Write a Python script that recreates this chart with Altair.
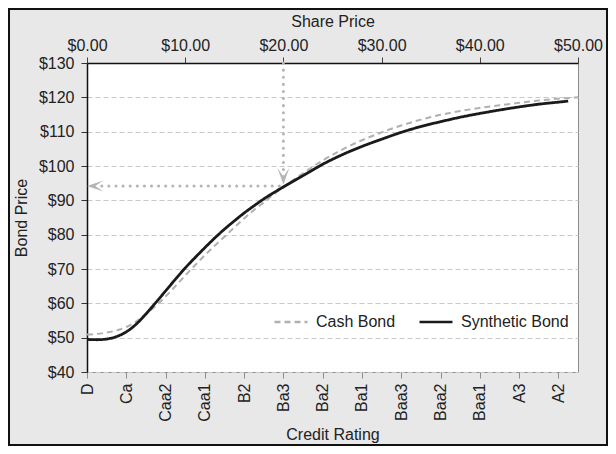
import json
import altair as alt
import pandas as pd

# ---- data ----
ratings = ["D", "Ca", "Caa2", "Caa1", "B2", "Ba3", "Ba2", "Ba1", "Baa3", "Baa2", "Baa1", "A3", "A2"]
rating_share = [0, 4, 8, 12, 16, 20, 24, 28, 32, 36, 40, 44, 48]
share_ticks = [0, 10, 20, 30, 40, 50]
bond_ticks = [40, 50, 60, 70, 80, 90, 100, 110, 120, 130]

cash_x = [0, 1, 2, 3, 4, 5, 6, 7, 8, 9, 10, 11, 12, 13, 14, 15, 16, 17, 18, 19, 20, 21, 22,
          24, 26, 28, 30, 32, 34, 36, 38, 40, 42, 44, 46, 48, 50]
cash_y = [50.9, 51.1, 51.5, 52.1, 53.1, 54.7, 56.8, 59.3, 62.0, 65.0, 68.1, 71.1, 74.0, 76.8,
          79.4, 82.1, 84.7, 87.2, 89.4, 91.7, 93.8, 95.9, 97.9, 101.6, 104.8, 107.5, 109.8,
          111.8, 113.5, 114.9, 116.0, 116.9, 117.7, 118.4, 119.1, 119.6, 120.0]

syn_x = [0, 1, 2, 3, 4, 5, 6, 7, 8, 9, 10, 11, 12, 13, 14, 15, 16, 17, 18, 19, 20, 22,
         24, 26, 28, 30, 32, 34, 36, 38, 40, 42, 44, 46, 48, 49]
syn_y = [49.5, 49.4, 49.6, 50.3, 51.7, 53.9, 56.9, 60.2, 63.6, 67.0, 70.3, 73.3, 76.2, 79.0,
         81.6, 84.0, 86.3, 88.4, 90.4, 92.2, 93.9, 97.2, 100.5, 103.3, 105.7, 107.8, 109.8,
         111.5, 112.9, 114.2, 115.3, 116.3, 117.2, 118.0, 118.6, 118.9]

series_names = ["Cash Bond", "Synthetic Bond"]

# annotation: share price $20 -> bond price ~$94
vert_x = [20, 20]
vert_y = [130, 96]
horiz_x = [1.5, 20]
horiz_y = [94.2, 94.2]
arrow_down = {"s": [20], "v": [94.6]}
arrow_left = {"s": [0], "v": [94.2]}

# ---- frames ----
lines_df = pd.concat([
    pd.DataFrame({"s": cash_x, "v": cash_y, "series": series_names[0]}),
    pd.DataFrame({"s": syn_x, "v": syn_y, "series": series_names[1]}),
])
vert_df = pd.DataFrame({"s": vert_x, "v": vert_y})
horiz_df = pd.DataFrame({"s": horiz_x, "v": horiz_y})
down_df = pd.DataFrame(arrow_down)
left_df = pd.DataFrame(arrow_left)
frame_df = pd.DataFrame({"k": [0]})

FONT = "Liberation Sans"
TXT = "#222222"
GREY_ANN = "#b5b5b5"

xscale = alt.Scale(domain=[0, 50], nice=False, zero=False)
yscale = alt.Scale(domain=[40, 130], nice=False, zero=False)

rating_map = json.dumps({str(k): v for k, v in zip(rating_share, ratings)})

bottom_axis = alt.Axis(
    orient="bottom", values=rating_share, labelExpr=f"{rating_map}[datum.value]",
    labelAngle=-90, title="Credit Rating", grid=False, domain=False,
    tickColor="#8c8c8c", tickSize=6, labelPadding=5, titlePadding=5,
)
top_axis = alt.Axis(
    orient="top", values=share_ticks, labelExpr="'$' + format(datum.value, '.2f')",
    title="Share Price", grid=False, domainColor="#111111", domainWidth=1.5,
    tickColor="#444444", tickSize=6, labelPadding=4, titlePadding=8, labelFlush=False,
)
left_axis = alt.Axis(
    orient="left", values=bond_ticks, labelExpr="'$' + datum.value",
    title="Bond Price", grid=True, gridColor="#c8c8c8", gridDash=[5, 3], gridWidth=1,
    domainColor="#111111", domainWidth=1.5, tickColor="#333333", tickSize=6,
    labelPadding=7, titlePadding=9,
)

legend = alt.Legend(
    orient="none", legendX=186, legendY=241, direction="horizontal", title=None,
    symbolType="stroke", symbolSize=1089, symbolStrokeWidth=2.5,
    labelFontSize=16, labelFont=FONT, labelColor=TXT, columnPadding=18,
    labelOffset=7, padding=0,
)

Y = alt.Y("v:Q", scale=yscale, axis=left_axis)

lines = alt.Chart(lines_df).mark_line(interpolate="monotone").encode(
    x=alt.X("s:Q", scale=xscale, axis=bottom_axis),
    y=Y,
    color=alt.Color("series:N", scale=alt.Scale(domain=series_names, range=["#b0b0b0", "#1a1a1a"]), legend=legend),
    strokeDash=alt.StrokeDash("series:N", scale=alt.Scale(domain=series_names, range=[[6, 4], [1, 0]]), legend=legend),
    strokeWidth=alt.condition("datum.series == 'Synthetic Bond'", alt.value(2.8), alt.value(2.0)),
)

vert = alt.Chart(vert_df).mark_line(color=GREY_ANN, strokeWidth=3, strokeDash=[0.1, 7], strokeCap="round").encode(
    x=alt.X("s:Q", scale=xscale, axis=top_axis),
    y=Y,
)
horiz = alt.Chart(horiz_df).mark_line(color=GREY_ANN, strokeWidth=3, strokeDash=[0.1, 7], strokeCap="round").encode(
    x=alt.X("s:Q", scale=xscale, axis=None),
    y=Y,
)
down = alt.Chart(down_df).mark_point(
    shape="M-1,-2.8L0,0L1,-2.8L0,-1.3Z", filled=True, color=GREY_ANN, size=144, opacity=1,
).encode(
    x=alt.X("s:Q", scale=xscale, axis=None),
    y=Y,
)
left = alt.Chart(left_df).mark_point(
    shape="M0,0L3,-1L1.5,0L3,1Z", filled=True, color=GREY_ANN, size=121, opacity=1,
).encode(
    x=alt.X("s:Q", scale=xscale, axis=None),
    y=Y,
)
frame = alt.Chart(frame_df).mark_rect(filled=False, stroke="#111111", strokeWidth=2, clip=False).encode(
    x=alt.value(-78), x2=alt.value(520), y=alt.value(-54), y2=alt.value(382),
)

chart = alt.layer(lines, horiz, vert, down, left, frame).resolve_axis(x="independent").properties(
    width=491, height=309,
    autosize=alt.AutoSizeParams(type="none"),
    padding={"left": 79, "top": 55, "right": 30, "bottom": 74},
).configure(
    background="#e8e8e8",
).configure_view(
    fill="white", stroke="#8c8c8c", strokeWidth=1,
).configure_axis(
    labelFont=FONT, labelFontSize=16, labelColor=TXT,
    titleFont=FONT, titleFontSize=16, titleColor=TXT, titleFontWeight="normal",
)

chart.save("out.html", embed_options={"renderer": "svg", "actions": False})
